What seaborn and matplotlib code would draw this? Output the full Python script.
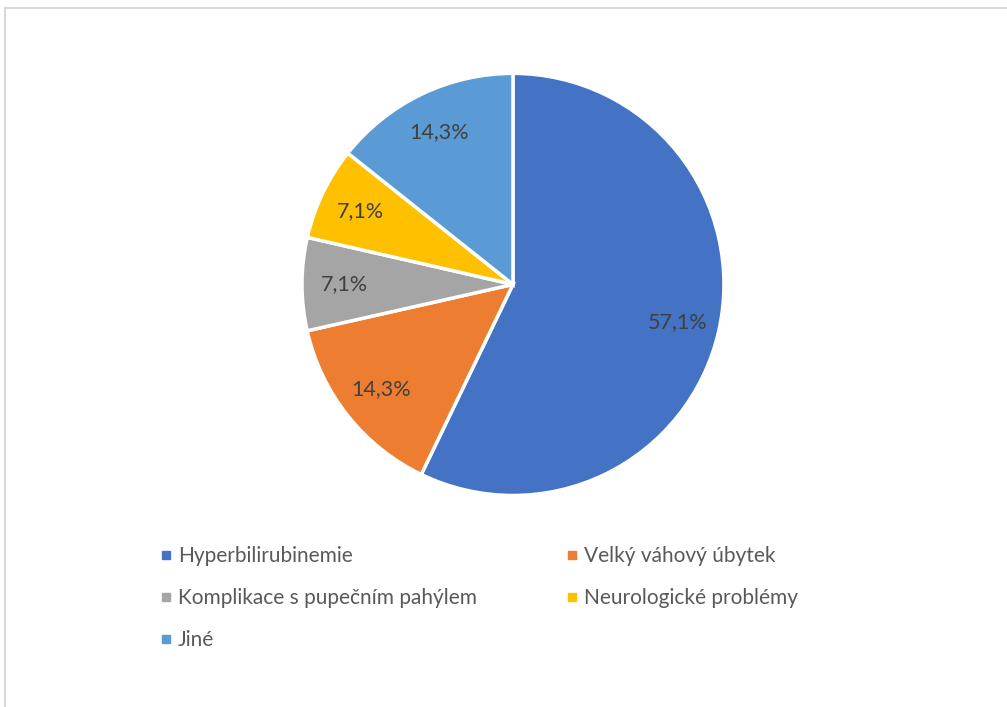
import matplotlib.pyplot as plt
import seaborn as sns
from matplotlib.lines import Line2D
from matplotlib.patches import Rectangle

sns.set_theme(style="white")
plt.rcParams['font.family'] = ['Lato', 'DejaVu Sans']

categories = ["Hyperbilirubinemie", "Velký váhový úbytek",
              "Komplikace s pupečním pahýlem", "Neurologické problémy", "Jiné"]
shares = [57.1, 14.3, 7.1, 7.1, 14.3]
colors = ["#4472C4", "#ED7D31", "#A5A5A5", "#FFC000", "#5B9BD5"]

total = sum(shares)

fig = plt.figure(figsize=(10.07, 7.07), dpi=100)
fig.patches.append(Rectangle((5 / 1007, -0.1), 1.2, 1 - 8 / 707 + 0.1,
                             transform=fig.transFigure, fill=False,
                             edgecolor="#d9d9d9", linewidth=1.5))

ax = fig.add_axes([0.2999, 0.2992, 0.419, 0.597])
wedges, texts, autotexts = ax.pie(
    shares, colors=colors, startangle=90, counterclock=False,
    autopct=lambda p: f"{p * total / 100:.1f}%".replace(".", ","), pctdistance=0.8,
    wedgeprops=dict(edgecolor="white", linewidth=2.5),
    textprops=dict(color="#404040", fontsize=15.5))
ax.set_aspect("auto")
ax.set_xlim(-1, 1)
ax.set_ylim(-1, 1)
ax.axis("off")

handles = [Line2D([], [], marker="s", linestyle="none", markersize=6,
                  markerfacecolor=c, markeredgecolor=c) for c in colors]
order = [0, 2, 4, 1, 3]
fig.legend([handles[i] for i in order], [categories[i] for i in order],
           ncol=2, loc="upper left", bbox_to_anchor=(150 / 1007, 1 - 536 / 707),
           frameon=False, fontsize=15, labelcolor="#595959",
           handlelength=0.5, handletextpad=0.35, labelspacing=1.05,
           columnspacing=4.3, borderpad=0)

fig.savefig("out.png", dpi=100)
